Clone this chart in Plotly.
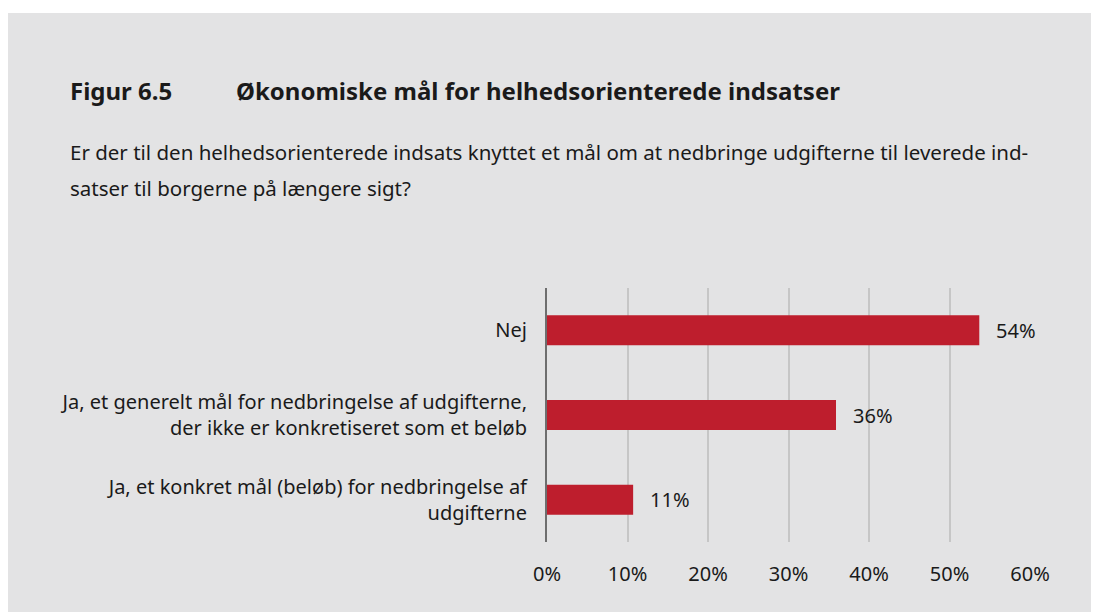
import plotly.graph_objects as go

categories = [
    "Ja, et konkret mål (beløb) for nedbringelse af<br>udgifterne",
    "Ja, et generelt mål for nedbringelse af udgifterne,<br>der ikke er konkretiseret som et beløb",
    "Nej",
]
values = [10.7, 35.9, 53.7]
labels = ["11%", "36%", "54%"]
tick_vals = [0, 10, 20, 30, 40, 50, 60]
tick_text = ["0%", "10%", "20%", "30%", "40%", "50%", "60%"]

title_num = "Figur 6.5"
title_text = "Økonomiske mål for helhedsorienterede indsatser"
sub1 = "Er der til den helhedsorienterede indsats knyttet et mål om at nedbringe udgifterne til leverede ind-"
sub2 = "satser til borgerne på længere sigt?"

# page has an 8px body margin, so the figure is a bit smaller than the window
W, H = 1091, 604
L, R, T, B = 539, 69, 280, 70
PW, PH = W - L - R, H - T - B
bg = "#e3e3e4"
font = "Noto Sans"
ink = "#1a1a1a"

fig = go.Figure(go.Bar(
    x=values, y=categories, orientation="h",
    marker=dict(color="#be1e2d", line=dict(width=0)),
    width=0.355, hoverinfo="skip",
))

for v, c, t in zip(values, categories, labels):
    fig.add_annotation(x=v, y=c, text=t, showarrow=False, xanchor="left",
                       xshift=15, font=dict(family=font, size=20, color=ink))

fig.update_layout(
    width=W, height=H,
    paper_bgcolor=bg, plot_bgcolor=bg,
    margin=dict(l=L, r=R, t=T, b=B),
    showlegend=False,
    font=dict(family=font, size=20, color=ink),
)
fig.update_xaxes(range=[0, 60], tickvals=tick_vals, ticktext=tick_text,
                 showgrid=True, gridcolor="#c6c6c6", gridwidth=1.5,
                 zeroline=False, showline=False, ticks="",
                 ticklabelstandoff=18, tickfont=dict(size=20))
fig.update_yaxes(showgrid=False, showline=True, linecolor="#6e6e6e", linewidth=2,
                 ticks="", ticklabelstandoff=14, tickfont=dict(size=20),
                 range=[-0.5, 2.5])

def px(x):
    return (x - 8 - L) / PW

def py(y):
    return (H - B - (y - 8)) / PH

# white strip along the top
fig.add_shape(type="rect", xref="paper", yref="paper",
              x0=px(0), x1=px(1100), y0=py(13), y1=py(0),
              fillcolor="white", line=dict(width=0), layer="above")

def ann(text, x, y, size, bold=False):
    fig.add_annotation(text=f"<b>{text}</b>" if bold else text,
                       xref="paper", yref="paper", x=px(x), y=py(y),
                       xanchor="left", yanchor="middle", showarrow=False,
                       font=dict(family=font, size=size, color=ink))

ann(title_num, 68, 90, 24, bold=True)
ann(title_text, 234, 90, 24, bold=True)
ann(sub1, 68, 152, 20.5)
ann(sub2, 68, 188, 20.5)

fig.write_html("out.html")
